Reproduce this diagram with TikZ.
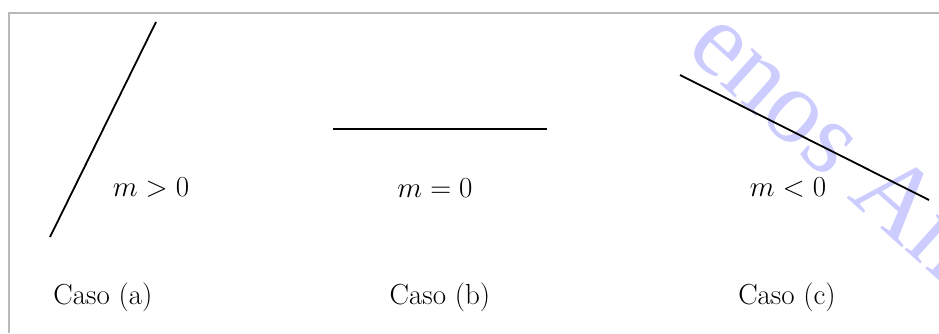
\documentclass[tikz,border=0pt]{standalone}
\usepackage{fix-cm}
\usepackage{fontspec}
\newfontfamily\wmfont{Liberation Serif}
\definecolor{frame}{RGB}{185,185,185}
\definecolor{wmblue}{RGB}{204,204,255}
\tikzset{
  slope/.style={line width=1.8pt, black},
  lbl/.style={inner sep=0pt, font=\fontsize{29}{34}\selectfont},
  frameline/.style={line width=2pt, frame}
}
\begin{document}
\begin{tikzpicture}[x=1pt,y=-1pt]
\useasboundingbox (0,0) rectangle (939,333);
\fill[white] (0,0) rectangle (939,333);
% watermark (behind)
\begin{scope}
\clip (0,0) rectangle (939,333);
\node[text=wmblue, font=\wmfont\fontsize{105}{110}\selectfont, rotate=-42, inner sep=0pt] (wm) at (836,142) {enos An};
\end{scope}
% frame
\coordinate (ftr) at (939,13);
\coordinate (ftl) at (9,13);
\coordinate (fbl) at (9,333);
\draw[frameline] (ftr) -- (ftl) -- (fbl);
% case a
\coordinate (a1) at (50,237);
\coordinate (a2) at (156,22);
\draw[slope] (a1) -- (a2);
\node[lbl] (ma) at (151,188) {$m>0$};
\node[lbl] (ca) at (103,297) {Caso (a)};
% case b
\coordinate (b1) at (333,129);
\coordinate (b2) at (547,129);
\draw[slope] (b1) -- (b2);
\node[lbl] (mb) at (435,188) {$m=0$};
\node[lbl] (cb) at (440,297) {Caso (b)};
% case c
\coordinate (c1) at (680,75);
\coordinate (c2) at (929,200);
\draw[slope] (c1) -- (c2);
\node[lbl] (mc) at (788,188) {$m<0$};
\node[lbl] (cc) at (787,297) {Caso (c)};
\end{tikzpicture}
\end{document}
